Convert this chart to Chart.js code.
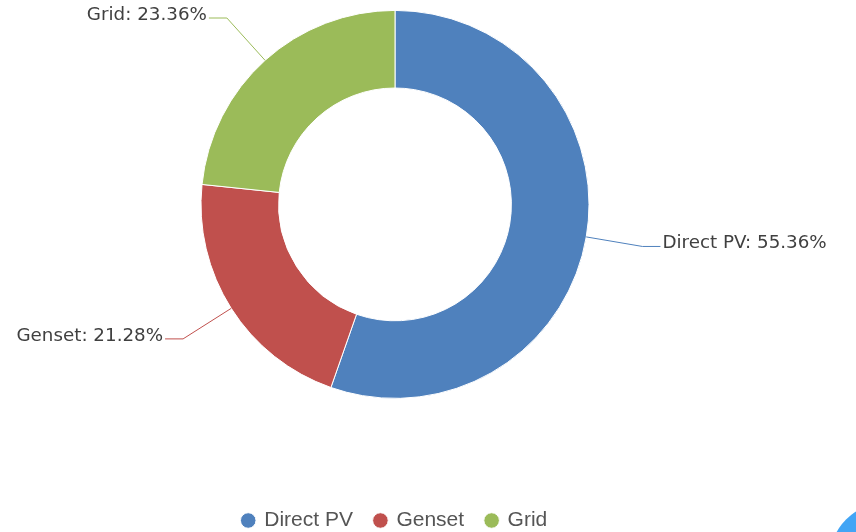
<!DOCTYPE html>
<html>
<head>
<meta charset="utf-8">
<script src="https://cdn.jsdelivr.net/npm/chart.js@4/dist/chart.umd.min.js"></script>
<style>
  html, body { margin: 0; padding: 0; background: #fff; overflow: hidden; }
  #wrap { position: relative; width: 856px; height: 532px; }
  /* round action button peeking in at the bottom-right corner */
  #fab { position: absolute; left: 829px; top: 502px; width: 118px; height: 118px; border-radius: 50%; background: #42a5f5; }
</style>
</head>
<body>
<div id="wrap">
  <canvas id="source-chart" width="856" height="532"></canvas>
  <div id="fab"></div>
</div>
<script>
const SOURCES = ['Direct PV', 'Genset', 'Grid'];
const SHARES = [55.36, 21.28, 23.36];
const SOURCE_COLORS = ['#4f81bd', '#c0504d', '#9bbb59'];

const LABEL_FONT = "18.3px 'DejaVu Sans'";
const LABEL_COLOR = '#404040';

// elbow-style callouts: radial segment out of the ring, short horizontal tail, text
const leaderLines = {
    id: 'leaderLines',
    afterDatasetsDraw(chart) {
        const ctx = chart.ctx;
        const meta = chart.getDatasetMeta(0);
        ctx.save();
        ctx.font = LABEL_FONT;
        ctx.textBaseline = 'middle';
        meta.data.forEach((arc, i) => {
            const { x, y, outerRadius, startAngle, endAngle } =
                arc.getProps(['x', 'y', 'outerRadius', 'startAngle', 'endAngle'], true);
            const mid = (startAngle + endAngle) / 2;
            const cos = Math.cos(mid);
            const sin = Math.sin(mid);
            const x0 = x + cos * outerRadius;
            const y0 = y + sin * outerRadius;
            const x1 = x + cos * (outerRadius + 57);
            const y1 = y + sin * (outerRadius + 57);
            const dir = cos >= 0 ? 1 : -1;
            const x2 = x1 + dir * 18;

            ctx.strokeStyle = SOURCE_COLORS[i];
            ctx.lineWidth = 1;
            ctx.beginPath();
            ctx.moveTo(x0, y0);
            ctx.lineTo(x1, y1);
            ctx.lineTo(x2, y1);
            ctx.stroke();

            ctx.fillStyle = LABEL_COLOR;
            ctx.textAlign = dir > 0 ? 'left' : 'right';
            ctx.fillText(SOURCES[i] + ': ' + SHARES[i].toFixed(2) + '%', x2 + dir * 2, y1 - 3);
        });
        ctx.restore();
    }
};

const ctx = document.getElementById('source-chart').getContext('2d');
new Chart(ctx, {
    type: 'doughnut',
    data: {
        labels: SOURCES,
        datasets: [{
            data: SHARES,
            backgroundColor: SOURCE_COLORS,
            borderColor: '#fff',
            borderWidth: 1,
            radius: 194,
            cutout: '60%'
        }]
    },
    options: {
        responsive: false,
        animation: false,
        layout: { padding: { top: 11, left: 0, right: 66, bottom: -9 } },
        plugins: {
            tooltip: { enabled: false },
            legend: {
                position: 'bottom',
                // empty title only used to push the legend row down
                title: { display: true, text: '', font: { size: 1 }, padding: { top: 89, bottom: 0 } },
                labels: {
                    usePointStyle: true,
                    pointStyle: 'circle',
                    boxWidth: 11,
                    boxHeight: 11,
                    padding: 22,
                    color: '#555',
                    font: { family: "Arial, 'Liberation Sans', sans-serif", size: 21 }
                }
            }
        }
    },
    plugins: [leaderLines]
});
</script>
</body>
</html>
